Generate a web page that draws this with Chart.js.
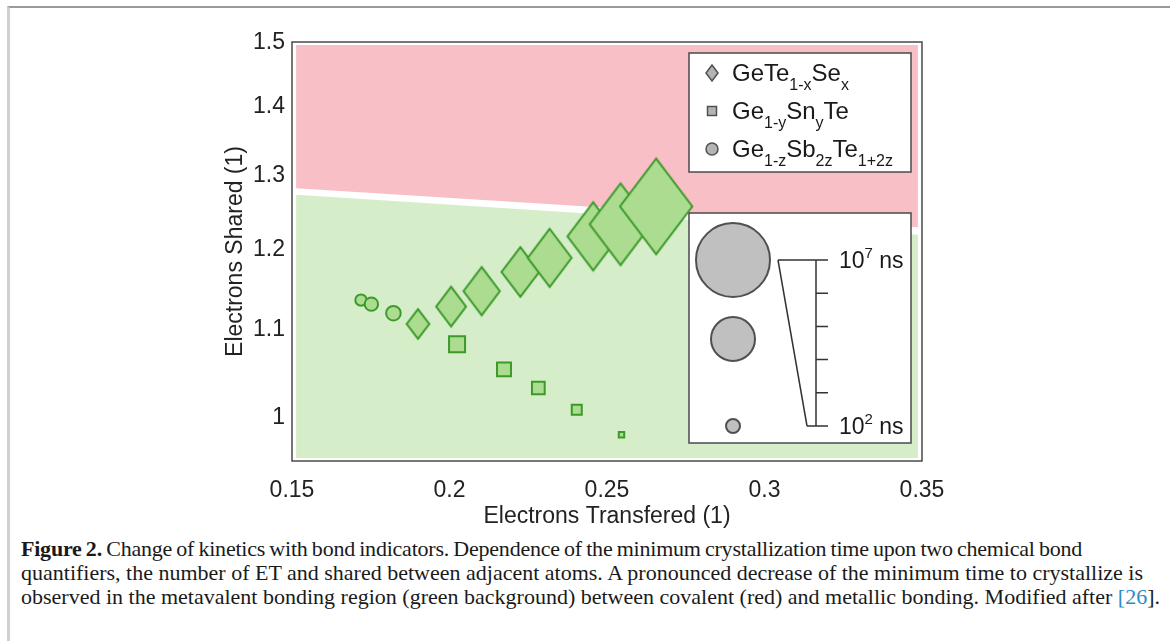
<!DOCTYPE html>
<html>
<head>
<meta charset="utf-8">
<script src="https://cdn.jsdelivr.net/npm/chart.js@4.4.0/dist/chart.umd.min.js"></script>
<style>
html, body { margin:0; padding:0; background:#fff; }
body { width:1170px; height:641px; position:relative; overflow:hidden; }
#frame { position:absolute; left:7px; top:6px; right:0; bottom:0; border-top:2px solid #9a9a9a; border-left:3px solid #d0d0d0; }
#chart { position:absolute; left:0; top:0; }
#caption { position:absolute; left:21px; top:537px; font-family:"Liberation Serif", serif; font-size:19.5px; line-height:24px; color:#1a1a1a; white-space:nowrap; }
#caption div { display:inline-block; clear:both; float:left; }
#caption .ref { color:#2b8cc4; }
</style>
</head>
<body>
<div id="frame"></div>
<canvas id="chart" width="1170" height="530"></canvas>
<div id="caption">
<div class="cl" data-w="1061"><b>Figure 2.</b> Change of kinetics with bond indicators. Dependence of the minimum crystallization time upon two chemical bond</div>
<div class="cl" data-w="1122">quantifiers, the number of ET and shared between adjacent atoms. A pronounced decrease of the minimum time to crystallize is</div>
<div class="cl" id="lastLine" data-w="1139">observed in the metavalent bonding region (green background) between covalent (red) and metallic bonding. Modified after <span class="ref">[26</span>].</div>
</div>
<script>
const xTicks = [0.15, 0.2, 0.25, 0.3, 0.35];
const yTicks = [1, 1.1, 1.2, 1.3, 1.4, 1.5];

// GeTe(1-x)Se(x)
const seET = [0.190, 0.2005, 0.2102, 0.2225, 0.2318, 0.2456, 0.2543, 0.2656];
const seES = [1.107, 1.128, 1.147, 1.171, 1.189, 1.217, 1.233, 1.257];
const seLogT = [2.75, 3.37, 3.92, 4.03, 4.55, 5.2, 6.08, 6.98];
// Ge(1-y)Sn(y)Te
const snET = [0.2024, 0.2173, 0.2282, 0.2404, 0.2546];
const snES = [1.083, 1.054, 1.033, 1.009, 0.982];
const snLogT = [2.72, 2.48, 2.33, 2.01, 1.47];
// Ge(1-z)Sb(2z)Te(1+2z)
const sbET = [0.1719, 0.1752, 0.1822];
const sbES = [1.136, 1.131, 1.120];
const sbLogT = [1.78, 1.95, 2.05];

// covalent / metavalent regions
const regionET = [0.1513, 0.3487];
const covalentLow = [1.282, 1.229];
const metavalentHigh = [1.273, 1.219];
const regionTop = 1.4966;
const regionBottom = 0.9577;

// size legend (log10 of time in ns)
const sizeLegendLogT = [7, 4.5, 2];

const FONT = '"Liberation Sans", Arial, sans-serif';
const markFill = '#acdc90';
const markLine = '#3c9a2a';
const yMin = 0.9546, yMax = 1.5015;

function radiusFor(lt) {
	return 6 * lt - 5;
}

function diamondCanvas(r, fill, stroke, lw) {
	let hw = 0.98 * r, hh = 1.3 * r;
	let c = document.createElement('canvas');
	c.width = Math.round(2 * hw + 2 * lw + 4);
	c.height = Math.round(2 * hh + 2 * lw + 4);
	let g = c.getContext('2d');
	let cx = c.width / 2, cy = c.height / 2;
	g.beginPath();
	g.moveTo(cx, cy - hh);
	g.lineTo(cx + hw, cy);
	g.lineTo(cx, cy + hh);
	g.lineTo(cx - hw, cy);
	g.closePath();
	g.fillStyle = fill;
	g.fill();
	g.lineWidth = lw;
	g.strokeStyle = stroke;
	g.stroke();
	return c;
}

function points(xs, ys) {
	return xs.map((x, i) => ({x: x, y: ys[i]}));
}

const seImgs = seLogT.map(lt => diamondCanvas(radiusFor(lt), markFill, markLine, 2));

// draws text with sub (1) / superscripts (2)
function drawRich(g, x, y, parts, big, small) {
	parts.forEach(function (p) {
		let dy = 0;
		if (p[1] === 1) { g.font = small + 'px ' + FONT; dy = 9; }
		else if (p[1] === 2) { g.font = small + 'px ' + FONT; dy = -10; }
		else { g.font = big + 'px ' + FONT; }
		g.fillText(p[0], x, y + dy);
		x += g.measureText(p[0]).width;
	});
}

const decorations = {
	id: 'decorations',
	afterDraw(chart) {
		let g = chart.ctx;
		let a = chart.chartArea;
		g.save();
		// frame
		g.strokeStyle = '#4a4a4a';
		g.lineWidth = 1.5;
		g.strokeRect(a.left, a.top, a.right - a.left, a.bottom - a.top);

		// series legend
		let L = a.right - 233, T = a.top + 11;
		g.fillStyle = '#fff';
		g.fillRect(L, T, 222, 119);
		g.strokeRect(L, T, 222, 119);
		g.fillStyle = '#b4b4b4';
		g.strokeStyle = '#505050';
		g.lineWidth = 1.5;
		let mx = L + 23;
		g.beginPath();
		g.moveTo(mx, T + 12); g.lineTo(mx + 6, T + 20); g.lineTo(mx, T + 28); g.lineTo(mx - 6, T + 20);
		g.closePath(); g.fill(); g.stroke();
		g.fillRect(mx - 4.5, T + 53.5, 9, 9);
		g.strokeRect(mx - 4.5, T + 53.5, 9, 9);
		g.beginPath(); g.arc(mx, T + 96, 6, 0, Math.PI * 2); g.fill(); g.stroke();

		g.fillStyle = '#1a1a1a';
		g.textBaseline = 'alphabetic';
		g.textAlign = 'left';
		let tx = L + 43;
		drawRich(g, tx, T + 28, [['GeTe', 0], ['1-x', 1], ['Se', 0], ['x', 1]], 24, 16);
		drawRich(g, tx, T + 66, [['Ge', 0], ['1-y', 1], ['Sn', 0], ['y', 1], ['Te', 0]], 24, 16);
		drawRich(g, tx, T + 104, [['Ge', 0], ['1-z', 1], ['Sb', 0], ['2z', 1], ['Te', 0], ['1+2z', 1]], 24, 16);

		// size legend
		let L2 = a.right - 233, T2 = a.top + 171;
		g.fillStyle = '#fff';
		g.strokeStyle = '#4a4a4a';
		g.lineWidth = 1.5;
		g.fillRect(L2, T2, 222, 230);
		g.strokeRect(L2, T2, 222, 230);
		let cy = [T2 + 47, T2 + 126, T2 + 213];
		g.fillStyle = '#c0c0c0';
		g.strokeStyle = '#505050';
		g.lineWidth = 2;
		sizeLegendLogT.forEach(function (lt, i) {
			g.beginPath();
			g.arc(L2 + 44, cy[i], radiusFor(lt), 0, Math.PI * 2);
			g.fill(); g.stroke();
		});
		// scale bar
		let bx = L2 + 127, yTop = cy[0], yBot = cy[2];
		g.strokeStyle = '#333';
		g.lineWidth = 1.5;
		g.beginPath();
		g.moveTo(bx, yTop); g.lineTo(bx, yBot);
		g.moveTo(L2 + 89, yTop); g.lineTo(bx + 12, yTop);
		g.moveTo(L2 + 118, yBot); g.lineTo(bx + 12, yBot);
		g.moveTo(L2 + 89, yTop); g.lineTo(L2 + 118, yBot);
		for (let k = 1; k < 5; k++) {
			let yy = yTop + (yBot - yTop) * k / 5;
			g.moveTo(bx, yy); g.lineTo(bx + 12, yy);
		}
		g.stroke();
		g.fillStyle = '#1a1a1a';
		drawRich(g, L2 + 150, yTop + 8, [['10', 0], ['7', 2], [' ns', 0]], 23, 15);
		drawRich(g, L2 + 150, yBot + 8, [['10', 0], ['2', 2], [' ns', 0]], 23, 15);
		g.restore();
	}
};

new Chart(document.getElementById('chart'), {
	type: 'scatter',
	data: {
		datasets: [
			{
				label: 'GeTe1-xSex',
				data: points(seET, seES),
				pointStyle: ctx => seImgs[ctx.dataIndex],
				pointRadius: ctx => radiusFor(seLogT[ctx.dataIndex]),
				backgroundColor: markFill,
				borderColor: markLine
			},
			{
				label: 'Ge1-ySnyTe',
				data: points(snET, snES),
				pointStyle: 'rect',
				pointRadius: ctx => radiusFor(snLogT[ctx.dataIndex]),
				backgroundColor: markFill,
				borderColor: markLine,
				borderWidth: 2
			},
			{
				label: 'Ge1-zSb2zTe1+2z',
				data: points(sbET, sbES),
				pointStyle: 'circle',
				pointRadius: ctx => radiusFor(sbLogT[ctx.dataIndex]),
				backgroundColor: markFill,
				borderColor: markLine,
				borderWidth: 2
			},
			{
				type: 'line',
				label: 'covalent',
				data: points(regionET, covalentLow),
				fill: {value: regionTop},
				backgroundColor: '#f8bfc7',
				borderColor: 'rgba(0,0,0,0)',
				pointRadius: 0,
				order: 5
			},
			{
				type: 'line',
				label: 'metavalent',
				data: points(regionET, metavalentHigh),
				fill: {value: regionBottom},
				backgroundColor: '#d5edc8',
				borderColor: 'rgba(0,0,0,0)',
				pointRadius: 0,
				order: 5
			}
		]
	},
	options: {
		responsive: false,
		animation: false,
		events: [],
		layout: {padding: {left: 210, top: 42, right: 248, bottom: 0}},
		plugins: {legend: {display: false}, tooltip: {enabled: false}},
		scales: {
			x: {
				type: 'linear',
				min: 0.15,
				max: 0.35,
				grid: {display: false, drawTicks: false},
				border: {display: false},
				ticks: {padding: 16, color: '#222', font: {family: FONT, size: 23}, callback: v => String(v)},
				afterBuildTicks: s => { s.ticks = xTicks.map(v => ({value: v})); },
				afterFit: s => { s.height = 69; },
				title: {display: true, text: 'Electrons Transfered (1)', color: '#222', font: {family: FONT, size: 23}, padding: {top: 0, bottom: 0}}
			},
			y: {
				type: 'logarithmic',
				min: yMin,
				max: yMax,
				grid: {display: false, drawTicks: false},
				border: {display: false},
				ticks: {padding: 7, color: '#222', font: {family: FONT, size: 23}, callback: v => v === 1 ? '1' : v.toFixed(1)},
				afterBuildTicks: s => {
					s.ticks = yTicks.map(v => ({value: v}));
					s.min = yMin;
					s.max = yMax;
				},
				afterFit: s => { s.width = 82; },
				title: {display: true, text: 'Electrons Shared (1)', color: '#222', font: {family: FONT, size: 23}, padding: {top: 12, bottom: 0}}
			}
		}
	},
	plugins: [decorations]
});

// caption: size from the last line, then share the rest between letter and word spacing
let cap = document.getElementById('caption');
let last = document.getElementById('lastLine');
cap.style.fontSize = (19.5 * 1139 / last.getBoundingClientRect().width) + 'px';
document.querySelectorAll('#caption .cl').forEach(function (el) {
	let w = el.getBoundingClientRect().width;
	let diff = +el.dataset.w - w;
	let chars = el.textContent.length;
	let spaces = el.textContent.split(' ').length - 1;
	el.style.letterSpacing = (diff * 0.6 / chars) + 'px';
	el.style.wordSpacing = (diff * 0.4 / spaces) + 'px';
});
</script>
</body>
</html>
